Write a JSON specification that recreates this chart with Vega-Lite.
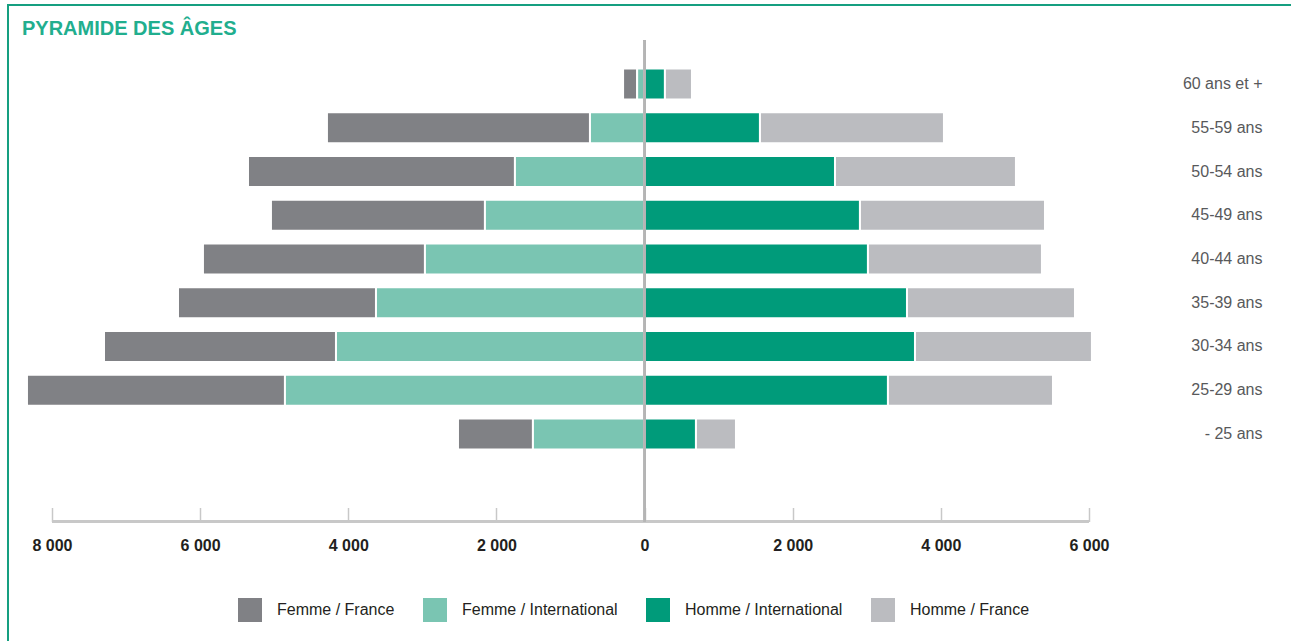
{
  "$schema": "https://vega.github.io/schema/vega-lite/v6.json",
  "width": 1292,
  "height": 643.5,
  "autosize": {"type": "none"},
  "padding": {"left": 8, "top": 5, "right": 0, "bottom": 0},
  "background": "white",
  "config": {
    "view": {"stroke": "#159F80", "strokeWidth": 2},
    "font": "Liberation Sans"
  },
  "title": {
    "text": "PYRAMIDE DES ÂGES",
    "anchor": "start",
    "frame": "group",
    "orient": "top",
    "offset": -50,
    "dx": 14,
    "baseline": "alphabetic",
    "fontSize": 20,
    "fontWeight": "bold",
    "color": "#21AE8E",
    "font": "Liberation Sans"
  },
  "data": {
    "values": [
      {"age": "60 ans et +", "serie": "Femme / France", "origine": "France", "valeur": -190},
      {"age": "60 ans et +", "serie": "Femme / International", "origine": "International", "valeur": -100},
      {"age": "60 ans et +", "serie": "Homme / International", "origine": "International", "valeur": 275},
      {"age": "60 ans et +", "serie": "Homme / France", "origine": "France", "valeur": 365},
      {"age": "55-59 ans", "serie": "Femme / France", "origine": "France", "valeur": -3551},
      {"age": "55-59 ans", "serie": "Femme / International", "origine": "International", "valeur": -737},
      {"age": "55-59 ans", "serie": "Homme / International", "origine": "International", "valeur": 1558},
      {"age": "55-59 ans", "serie": "Homme / France", "origine": "France", "valeur": 2484},
      {"age": "50-54 ans", "serie": "Femme / France", "origine": "France", "valeur": -3604},
      {"age": "50-54 ans", "serie": "Femme / International", "origine": "International", "valeur": -1750},
      {"age": "50-54 ans", "serie": "Homme / International", "origine": "International", "valeur": 2571},
      {"age": "50-54 ans", "serie": "Homme / France", "origine": "France", "valeur": 2443},
      {"age": "45-49 ans", "serie": "Femme / France", "origine": "France", "valeur": -2889},
      {"age": "45-49 ans", "serie": "Femme / International", "origine": "International", "valeur": -2155},
      {"age": "45-49 ans", "serie": "Homme / International", "origine": "International", "valeur": 2908},
      {"age": "45-49 ans", "serie": "Homme / France", "origine": "France", "valeur": 2498},
      {"age": "40-44 ans", "serie": "Femme / France", "origine": "France", "valeur": -2997},
      {"age": "40-44 ans", "serie": "Femme / International", "origine": "International", "valeur": -2965},
      {"age": "40-44 ans", "serie": "Homme / International", "origine": "International", "valeur": 3016},
      {"age": "40-44 ans", "serie": "Homme / France", "origine": "France", "valeur": 2349},
      {"age": "35-39 ans", "serie": "Femme / France", "origine": "France", "valeur": -2673},
      {"age": "35-39 ans", "serie": "Femme / International", "origine": "International", "valeur": -3626},
      {"age": "35-39 ans", "serie": "Homme / International", "origine": "International", "valeur": 3543},
      {"age": "35-39 ans", "serie": "Homme / France", "origine": "France", "valeur": 2268},
      {"age": "30-34 ans", "serie": "Femme / France", "origine": "France", "valeur": -3132},
      {"age": "30-34 ans", "serie": "Femme / International", "origine": "International", "valeur": -4166},
      {"age": "30-34 ans", "serie": "Homme / International", "origine": "International", "valeur": 3651},
      {"age": "30-34 ans", "serie": "Homme / France", "origine": "France", "valeur": 2389},
      {"age": "25-29 ans", "serie": "Femme / France", "origine": "France", "valeur": -3483},
      {"age": "25-29 ans", "serie": "Femme / International", "origine": "International", "valeur": -4855},
      {"age": "25-29 ans", "serie": "Homme / International", "origine": "International", "valeur": 3286},
      {"age": "25-29 ans", "serie": "Homme / France", "origine": "France", "valeur": 2228},
      {"age": "- 25 ans", "serie": "Femme / France", "origine": "France", "valeur": -1012},
      {"age": "- 25 ans", "serie": "Femme / International", "origine": "International", "valeur": -1507},
      {"age": "- 25 ans", "serie": "Homme / International", "origine": "International", "valeur": 694},
      {"age": "- 25 ans", "serie": "Homme / France", "origine": "France", "valeur": 540}
    ]
  },
  "layer": [
    {
      "mark": {"type": "bar", "stroke": "white", "strokeWidth": 2},
      "encoding": {
        "y": {
          "field": "age",
          "type": "nominal",
          "scale": {
            "domain": ["t0", "60 ans et +", "55-59 ans", "50-54 ans", "45-49 ans", "40-44 ans", "35-39 ans", "30-34 ans", "25-29 ans", "- 25 ans", "b1", "b2", "b3"],
            "paddingInner": 0.291,
            "paddingOuter": 1,
            "align": 0.2257
          },
          "axis": {
            "orient": "right",
            "offset": -38,
            "domain": false,
            "ticks": false,
            "grid": false,
            "labelPadding": 0,
            "labelAlign": "right",
            "labelBaseline": "middle",
            "labelFont": "Liberation Sans",
            "labelFontSize": 16,
            "labelColor": "#58595B",
            "values": ["60 ans et +", "55-59 ans", "50-54 ans", "45-49 ans", "40-44 ans", "35-39 ans", "30-34 ans", "25-29 ans", "- 25 ans"],
            "title": null
          }
        },
        "x": {
          "field": "valeur",
          "type": "quantitative",
          "stack": "zero",
          "scale": {"domain": [-8594, 8849], "nice": false, "zero": false},
          "axis": {
            "orient": "bottom",
            "offset": -127,
            "domain": false,
            "grid": false,
            "values": [-8000, -6000, -4000, -2000, 0, 2000, 4000, 6000],
            "tickSize": -14,
            "tickColor": "#C8C8C8",
            "tickWidth": 1.5,
            "labelPadding": 30,
            "labelExpr": "replace(format(abs(datum.value), ','), ',', ' ')",
            "labelFont": "Liberation Sans",
            "labelFontSize": 16,
            "labelFontWeight": "bold",
            "labelColor": "#231F20",
            "labelFlush": false,
            "labelOverlap": false,
            "title": null
          }
        },
        "color": {
          "field": "serie",
          "type": "nominal",
          "scale": {
            "domain": ["Femme / France", "Femme / International", "Homme / International", "Homme / France"],
            "range": ["#808185", "#7AC5B2", "#009B7A", "#BBBCC0"]
          },
          "legend": {
            "orient": "none",
            "legendX": 230,
            "legendY": 593,
            "direction": "horizontal",
            "title": null,
            "symbolType": "square",
            "symbolSize": 576,
            "symbolStrokeWidth": 0,
            "symbolOpacity": 1,
            "labelFont": "Liberation Sans",
            "labelFontSize": 16,
            "labelColor": "#231F20",
            "labelOffset": 15,
            "columnPadding": 28,
            "padding": 0,
            "labelLimit": 300
          }
        },
        "order": {"field": "origine", "sort": "descending"}
      }
    },
    {
      "mark": {"type": "rule", "color": "#C8C8C8", "strokeWidth": 1.5},
      "encoding": {
        "x": {"datum": -8000, "type": "quantitative"},
        "x2": {"datum": 6000},
        "y": {"datum": "b2", "type": "nominal"}
      }
    },
    {
      "mark": {"type": "rule", "color": "#B5B5B5", "strokeWidth": 1.5},
      "encoding": {
        "x": {"datum": 0, "type": "quantitative"},
        "y": {"datum": "t0", "type": "nominal"},
        "y2": {"datum": "b2"}
      }
    }
  ]
}
